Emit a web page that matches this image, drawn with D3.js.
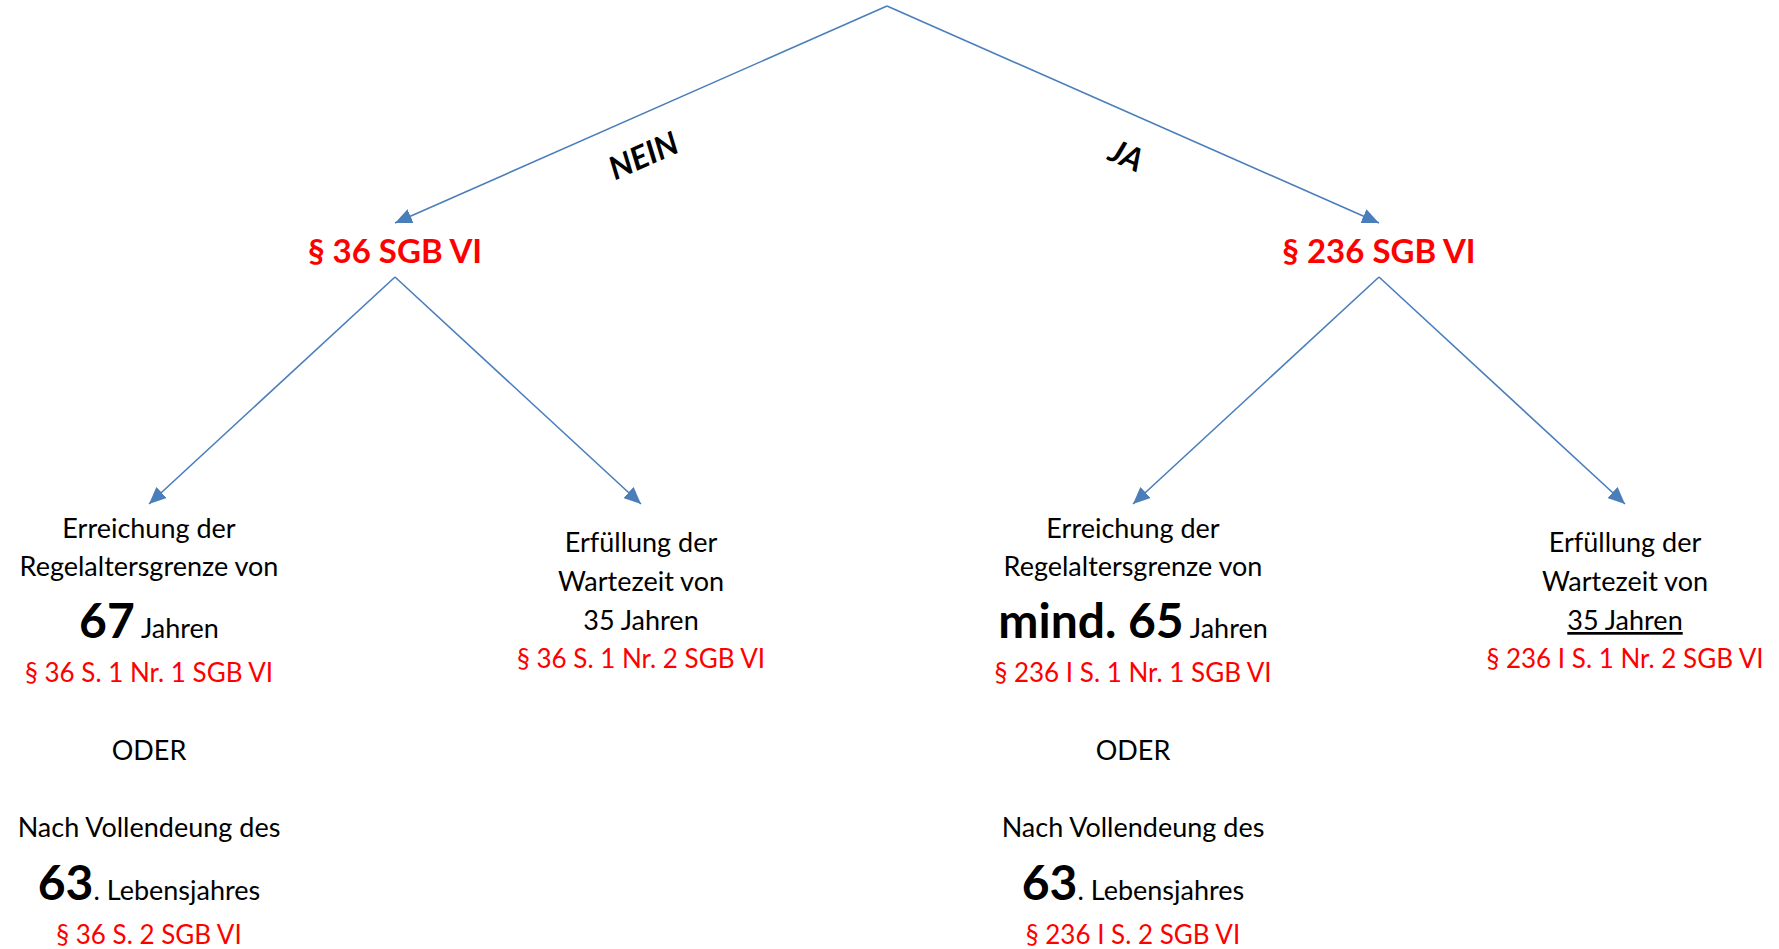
<!DOCTYPE html>
<html>
<head>
<meta charset="utf-8">
<script src="https://cdn.jsdelivr.net/npm/d3@7"></script>
<style>
  html, body { margin: 0; padding: 0; background: #fff; }
  svg { display: block; font-family: Lato, 'Open Sans', sans-serif; }
  .edge { stroke: #4a7ebb; stroke-width: 1.6; fill: none; }
  .branch { font-weight: 700; font-style: italic; font-size: 32px; fill: #000; }
  .section { font-weight: 700; font-size: 33px; fill: #ff0000; }
  .line { font-size: 27px; fill: #000; }
  .cite { fill: #ff0000; font-size: 26px; }
  .big { font-weight: 700; font-size: 48px; }
</style>
</head>
<body>
<div id="chart"></div>
<script>
'use strict';

// --- data ---
const branches = ['NEIN', 'JA'];
const sections = ['§ 36 SGB VI', '§ 236 SGB VI'];
const regelAges = ['67', 'mind. 65'];
const earlyAges = ['63', '63'];
const waitYears = ['35 Jahren', '35 Jahren'];
const citeAge = ['§ 36 S. 1 Nr. 1 SGB VI', '§ 236 I S. 1 Nr. 1 SGB VI'];
const citeEarly = ['§ 36 S. 2 SGB VI', '§ 236 I S. 2 SGB VI'];
const citeWait = ['§ 36 S. 1 Nr. 2 SGB VI', '§ 236 I S. 1 Nr. 2 SGB VI'];

// --- layout ---
const width = 1779, height = 949;
const leafLeft = 149, leafRight = 1625;
const apexY = [6, 277];       // where edges leave a node, per depth
const tipY = [null, 223, 504]; // where arrows end, per depth
const sectionBaseline = 263;
const lineGap = 38;

// lines are [spans, dy from previous baseline]
function ageLeaf(i) {
    return [
        [[{t: 'Erreichung der'}], 0],
        [[{t: 'Regelaltersgrenze von'}], lineGap],
        [[{t: regelAges[i], cls: 'big'}, {t: ' Jahren'}], 62],
        [[{t: citeAge[i], cls: 'cite'}], 44],
        [[{t: 'ODER'}], 78],
        [[{t: 'Nach Vollendeung des'}], 77],
        [[{t: earlyAges[i], cls: 'big'}, {t: '. Lebensjahres'}], 63],
        [[{t: citeEarly[i], cls: 'cite'}], 44]
    ];
}

function waitLeaf(i) {
    return [
        [[{t: 'Erfüllung der'}], 0],
        [[{t: 'Wartezeit von'}], 39],
        [[{t: waitYears[i], underline: i === 1}], 39],
        [[{t: citeWait[i], cls: 'cite'}], 38]
    ];
}

const treeData = {
    name: 'root',
    children: sections.map(function(s, i) {
        return {
            name: s,
            branch: branches[i],
            children: [
                {name: 'age', lines: ageLeaf(i), top: 538},
                {name: 'wait', lines: waitLeaf(i), top: 552}
            ]
        };
    })
};

// leaves are evenly spaced, every parent sits centred over its children
const leafStep = (leafRight - leafLeft) / 3;
const root = d3.hierarchy(treeData);
d3.tree().nodeSize([leafStep, 1]).separation(function() { return 1; })(root);
const shiftX = (leafLeft + leafRight) / 2 - root.x;
root.each(function(d) { d.x += shiftX; });

const svg = d3.select('#chart').append('svg')
    .attr('width', width)
    .attr('height', height);

svg.append('defs').append('marker')
    .attr('id', 'arrow')
    .attr('viewBox', '0 0 17 15')
    .attr('refX', 17)
    .attr('refY', 7.5)
    .attr('markerWidth', 17)
    .attr('markerHeight', 15)
    .attr('markerUnits', 'userSpaceOnUse')
    .attr('orient', 'auto')
    .append('path')
    .attr('d', 'M0,0L17,7.5L0,15Z')
    .attr('fill', '#4a7ebb');

svg.append('g').selectAll('line')
    .data(root.links())
    .join('line')
    .attr('class', 'edge')
    .attr('x1', function(d) { return d.source.x; })
    .attr('y1', function(d) { return apexY[d.source.depth]; })
    .attr('x2', function(d) { return d.target.x; })
    .attr('y2', function(d) { return tipY[d.target.depth]; })
    .attr('marker-end', 'url(#arrow)');

// branch labels (NEIN / JA) sit just under the first-level edges
svg.append('g').selectAll('text')
    .data(root.children)
    .join('text')
    .attr('class', 'branch')
    .attr('text-anchor', 'middle')
    .attr('dominant-baseline', 'central')
    .attr('transform', function(d) {
        let mx = (root.x + d.x) / 2, my = (apexY[0] + tipY[1]) / 2;
        let ang = Math.atan2(tipY[1] - apexY[0], d.x - root.x) * 180 / Math.PI;
        if (ang > 90) ang -= 180;
        let dx = d.x < root.x ? 2 : -6;
        return 'translate(' + (mx + dx) + ',' + (my + 40) + ') rotate(' + ang + ')';
    })
    .text(function(d) { return d.data.branch; });

svg.append('g').selectAll('text')
    .data(root.children)
    .join('text')
    .attr('class', 'section')
    .attr('text-anchor', 'middle')
    .attr('x', function(d) { return d.x; })
    .attr('y', sectionBaseline)
    .text(function(d) { return d.data.name; });

let leafG = svg.append('g').selectAll('g')
    .data(root.leaves())
    .join('g');

leafG.each(function(leaf) {
    let g = d3.select(this);
    let y = leaf.data.top;
    leaf.data.lines.forEach(function(line) {
        y += line[1];
        let t = g.append('text')
            .attr('class', 'line')
            .attr('text-anchor', 'middle')
            .attr('x', leaf.x)
            .attr('y', y);
        line[0].forEach(function(span) {
            t.append('tspan')
                .attr('class', span.cls || null)
                .style('text-decoration', span.underline ? 'underline' : null)
                .text(span.t);
        });
    });
});
</script>
</body>
</html>
